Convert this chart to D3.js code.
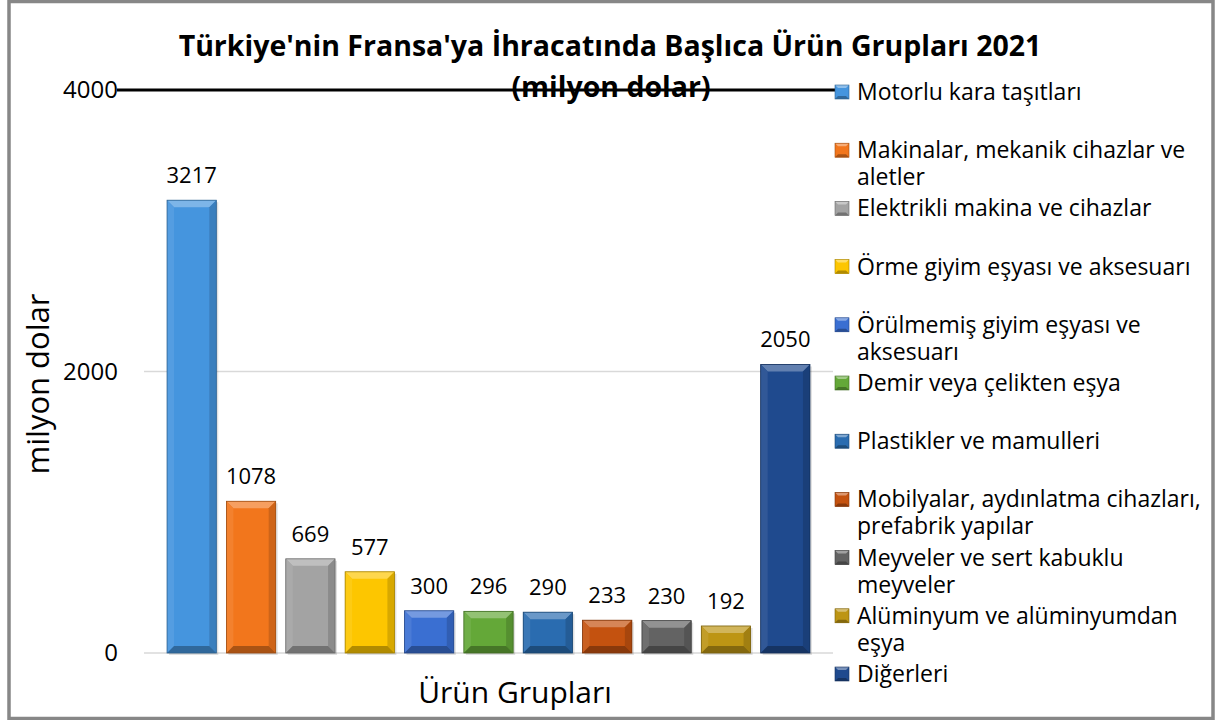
<!DOCTYPE html>
<html>
<head>
<meta charset="utf-8">
<script src="https://cdn.jsdelivr.net/npm/d3@7"></script>
<style>
  body { margin: 0; background: #fff; }
  text { font-family: "Open Sans", "Noto Sans", sans-serif; fill: #000; }
</style>
</head>
<body>
<svg id="chart" width="1215" height="720"></svg>
<script>
// chart data
var categories = [
  "Motorlu kara taşıtları",
  "Makinalar, mekanik cihazlar ve aletler",
  "Elektrikli makina ve cihazlar",
  "Örme giyim eşyası ve aksesuarı",
  "Örülmemiş giyim eşyası ve aksesuarı",
  "Demir veya çelikten eşya",
  "Plastikler ve mamulleri",
  "Mobilyalar, aydınlatma cihazları, prefabrik yapılar",
  "Meyveler ve sert kabuklu meyveler",
  "Alüminyum ve alüminyumdan eşya",
  "Diğerleri"
];
var values = [3217, 1078, 669, 577, 300, 296, 290, 233, 230, 192, 2050];
var colors = ["#4595de", "#f2761c", "#a3a3a3", "#fdc600", "#3a6fd2", "#64a838",
              "#2a6cb0", "#c4520f", "#636363", "#bd9514", "#1f4a8e"];
var yTicks = [0, 2000, 4000];

var svg = d3.select("#chart");

// outer frame
svg.append("rect")
  .attr("x", 9).attr("y", 1.5)
  .attr("width", 1204).attr("height", 717)
  .attr("fill", "#fff")
  .attr("stroke", "#878787")
  .attr("stroke-width", 3.5);

// scales
var x = d3.scaleBand()
  .domain(categories)
  .range([162, 815])
  .paddingInner(0.17)
  .paddingOuter(0.085);

var y = d3.scaleLinear()
  .domain([0, 4000])
  .range([653, 90]);

var gridLeft = 144, gridRight = 833;

// gridlines
svg.append("g")
  .selectAll("line")
  .data(yTicks.filter(function(d){ return d < 4000; }))
  .join("line")
  .attr("x1", gridLeft).attr("x2", gridRight)
  .attr("y1", function(d){ return y(d); })
  .attr("y2", function(d){ return y(d); })
  .attr("stroke", "#d9d9d9")
  .attr("stroke-width", 1.5);

// y tick labels
svg.append("g")
  .selectAll("text")
  .data(yTicks)
  .join("text")
  .attr("x", 118)
  .attr("y", function(d){ return y(d) + 8; })
  .attr("text-anchor", "end")
  .style("font-size", "24px")
  .text(function(d){ return d; });

// bars with bevel
var bev = 7;
var bars = svg.append("g")
  .selectAll("g")
  .data(values)
  .join("g");

bars.each(function(v, i) {
  var g = d3.select(this);
  var x0 = x(categories[i]), w = x.bandwidth();
  var y0 = y(v), y1 = y(0);
  var c = d3.color(colors[i]);
  var b = Math.min(bev, (y1 - y0) / 2);
  // shadow
  g.append("rect")
    .attr("x", x0 + 2).attr("y", y0 + 2)
    .attr("width", w).attr("height", y1 - y0)
    .attr("fill", "#000").attr("opacity", 0.12);
  g.append("rect")
    .attr("x", x0).attr("y", y0)
    .attr("width", w).attr("height", y1 - y0)
    .attr("fill", c.formatHex());
  var poly = function(pts, fill) {
    g.append("polygon")
      .attr("points", pts.map(function(p){ return p.join(","); }).join(" "))
      .attr("fill", fill);
  };
  poly([[x0, y0], [x0 + w, y0], [x0 + w - b, y0 + b], [x0 + b, y0 + b]],
       d3.interpolateRgb(c, "#fff")(0.3));
  poly([[x0, y0], [x0 + b, y0 + b], [x0 + b, y1 - b], [x0, y1]],
       d3.interpolateRgb(c, "#fff")(0.08));
  poly([[x0 + w, y0], [x0 + w - b, y0 + b], [x0 + w - b, y1 - b], [x0 + w, y1]],
       d3.interpolateRgb(c, "#000")(0.15));
  poly([[x0, y1], [x0 + b, y1 - b], [x0 + w - b, y1 - b], [x0 + w, y1]],
       d3.interpolateRgb(c, "#000")(0.3));
  g.append("rect")
    .attr("x", x0).attr("y", y0)
    .attr("width", w).attr("height", y1 - y0)
    .attr("fill", "none")
    .attr("stroke", d3.interpolateRgb(c, "#000")(0.35))
    .attr("stroke-width", 0.8);
});

// value labels
svg.append("g")
  .selectAll("text")
  .data(values)
  .join("text")
  .attr("x", function(d, i){ return x(categories[i]) + x.bandwidth() / 2; })
  .attr("y", function(d){ return y(d) - 17; })
  .attr("text-anchor", "middle")
  .style("font-size", "22px")
  .text(function(d){ return d; });

// title
var title = svg.append("text")
  .attr("text-anchor", "middle")
  .style("font-size", "28.5px")
  .style("font-weight", "bold");
title.append("tspan").attr("x", 610).attr("y", 56)
  .text("Türkiye'nin Fransa'ya İhracatında Başlıca Ürün Grupları 2021");
title.append("tspan").attr("x", 611).attr("y", 97)
  .text("(milyon dolar)");

// top (4000) line drawn over the title
svg.append("line")
  .attr("x1", 117).attr("x2", 836)
  .attr("y1", y(4000)).attr("y2", y(4000))
  .attr("stroke", "#000")
  .attr("stroke-width", 3);

// axis titles
svg.append("text")
  .attr("x", 515).attr("y", 703)
  .attr("text-anchor", "middle")
  .style("font-size", "30px")
  .text("Ürün Grupları");

svg.append("text")
  .attr("transform", "translate(49,384) rotate(-90)")
  .attr("text-anchor", "middle")
  .style("font-size", "31px")
  .text("milyon dolar");

// legend
var legX = 835, legTop = 100, legStep = 58.2, legWidth = 352;
var legend = svg.append("g")
  .selectAll("g")
  .data(categories)
  .join("g")
  .attr("transform", function(d, i){ return "translate(" + legX + "," + (legTop + i * legStep) + ")"; });

legend.each(function(d, i) {
  var g = d3.select(this);
  var c = d3.color(colors[i]);
  var s = 14, b = 3;
  g.append("rect").attr("x", 0).attr("y", -15).attr("width", s).attr("height", s)
    .attr("fill", c.formatHex());
  g.append("polygon")
    .attr("points", [[0, -15], [s, -15], [s - b, -15 + b], [b, -15 + b]].map(function(p){ return p.join(","); }).join(" "))
    .attr("fill", d3.interpolateRgb(c, "#fff")(0.4));
  g.append("polygon")
    .attr("points", [[0, -1], [b, -1 - b], [s - b, -1 - b], [s, -1]].map(function(p){ return p.join(","); }).join(" "))
    .attr("fill", d3.interpolateRgb(c, "#000")(0.3));
  g.append("rect").attr("x", 0).attr("y", -15).attr("width", s).attr("height", s)
    .attr("fill", "none").attr("stroke", d3.interpolateRgb(c, "#000")(0.35)).attr("stroke-width", 0.6);

  var t = g.append("text").attr("x", 22).attr("y", 0).style("font-size", "23px");
  var words = d.split(" "), line = [];
  var ts = t.append("tspan").attr("x", 22).attr("dy", 0);
  words.forEach(function(wd) {
    line.push(wd);
    ts.text(line.join(" "));
    if (ts.node().getComputedTextLength() > legWidth && line.length > 1) {
      line.pop();
      ts.text(line.join(" "));
      line = [wd];
      ts = t.append("tspan").attr("x", 22).attr("dy", 27).text(wd);
    }
  });
});
</script>
</body>
</html>
